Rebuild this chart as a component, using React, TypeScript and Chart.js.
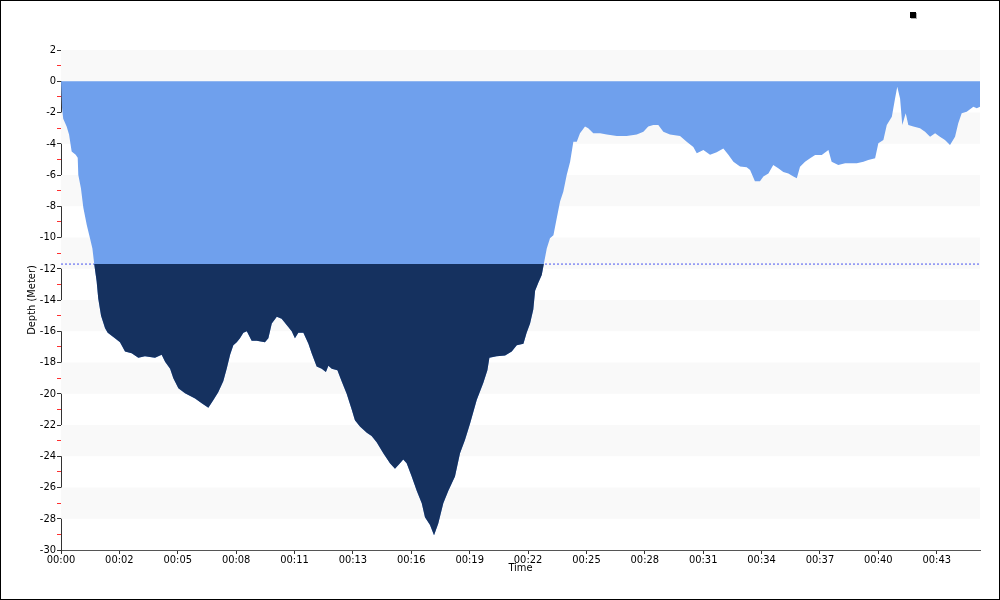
import React, { useEffect, useRef } from "react";
import { Chart, registerables } from "chart.js";

Chart.register(...registerables);

// Time in minutes since start of the dive
const TIME_MIN = [
  0, 0.05, 0.11, 0.28, 0.4, 0.53, 0.73, 0.83, 0.86, 0.99, 1.11, 1.28, 1.44, 1.56, 1.65, 1.77, 1.85, 1.99,
  2.19, 2.32, 2.68, 2.93, 3.18, 3.51, 3.84, 4.17, 4.67, 5.0, 5.17, 5.42, 5.58, 5.83, 6.16, 6.66, 6.99,
  7.32, 7.57, 7.81, 8.06, 8.23, 8.4, 8.56, 8.73, 8.89, 9.06, 9.23, 9.47, 9.72, 10.13, 10.3, 10.47, 10.72,
  10.96, 11.21, 11.46, 11.62, 11.79, 12.04, 12.29, 12.45, 12.7, 12.95, 13.16, 13.28, 13.45, 13.73, 13.94,
  14.19, 14.44, 14.6, 14.85, 15.19, 15.43, 15.68, 16.01, 16.34, 16.59, 16.84, 17.0, 17.17, 17.42, 17.67,
  17.92, 18.08, 18.33, 18.53, 18.74, 18.99, 19.24, 19.57, 19.82, 20.07, 20.32, 20.65, 20.98, 21.18, 21.28,
  21.64, 22.06, 22.39, 22.64, 22.97, 23.13, 23.3, 23.46, 23.55, 23.71, 23.88, 23.99, 24.13, 24.29, 24.46,
  24.62, 24.79, 24.95, 25.12, 25.29, 25.45, 25.62, 25.78, 26.03, 26.19, 26.44, 26.78, 27.11, 27.61, 28.1,
  28.6, 28.93, 29.17, 29.42, 29.67, 29.92, 30.25, 30.75, 31.08, 31.41, 31.58, 31.91, 32.24, 32.57, 32.9,
  33.15, 33.4, 33.73, 34.06, 34.23, 34.47, 34.72, 34.89, 35.14, 35.38, 35.63, 35.88, 36.13, 36.38, 36.55,
  36.71, 36.96, 37.21, 37.46, 37.79, 38.12, 38.28, 38.61, 38.95, 39.53, 39.86, 40.1, 40.44, 40.6, 40.85,
  41.02, 41.27, 41.43, 41.54, 41.68, 41.79, 41.96, 42.09, 42.34, 42.67, 42.92, 43.17, 43.42, 43.66, 43.91,
  44.16, 44.41, 44.57, 44.74, 44.99, 45.32, 45.49, 45.65,
];

// Depth in metres
const DEPTH_M = [
  0, -1.7, -2.4, -2.9, -3.4, -4.5, -4.7, -4.9, -6.0, -6.85, -8.1, -9.2, -10.05, -10.7, -11.7, -12.8, -13.9, -15.0,
  -15.8, -16.1, -16.45, -16.7, -17.3, -17.4, -17.7, -17.6, -17.7, -17.5, -17.95, -18.4, -19.0, -19.65, -19.97, -20.3, -20.6,
  -20.9, -20.4, -19.9, -19.2, -18.4, -17.5, -16.9, -16.7, -16.45, -16.1, -16.0, -16.6, -16.6, -16.7, -16.45, -15.5, -15.07,
  -15.2, -15.6, -16.0, -16.45, -16.1, -16.1, -16.8, -17.4, -18.25, -18.4, -18.6, -18.2, -18.4, -18.5, -19.2,
  -20.0, -21.0, -21.7, -22.1, -22.5, -22.7, -23.1, -23.8, -24.45, -24.8, -24.45, -24.2, -24.45, -25.3, -26.2,
  -27.0, -27.9, -28.4, -29.05, -28.3, -27.0, -26.2, -25.3, -23.8, -22.95, -21.9, -20.4, -19.3, -18.5, -17.7,
  -17.6, -17.55, -17.3, -16.9, -16.8, -16.1, -15.5, -14.6, -13.4, -12.9, -12.4, -11.65, -10.7, -10.05, -9.85,
  -8.8, -7.7, -7.07, -6.0, -5.15, -3.87, -3.87, -3.33, -2.9, -3.0, -3.33, -3.33, -3.4, -3.5, -3.5,
  -3.4, -3.23, -2.9, -2.8, -2.8, -3.23, -3.4, -3.5, -3.87, -4.2, -4.6, -4.4, -4.7, -4.55, -4.3,
  -4.7, -5.15, -5.45, -5.5, -5.68, -6.4, -6.4, -6.1, -5.9, -5.36, -5.57, -5.8, -5.9, -6.1, -6.2,
  -5.47, -5.15, -4.93, -4.72, -4.72, -4.4, -5.15, -5.36, -5.25, -5.25, -5.15, -5.04, -4.93, -3.97, -3.76,
  -2.8, -2.27, -1.1, -0.35, -1.1, -2.8, -2.05, -2.8, -2.9, -3.0, -3.23, -3.55, -3.33, -3.55, -3.76,
  -4.08, -3.55, -2.69, -2.05, -1.95, -1.63, -1.73, -1.63,
];

const THRESHOLD_M = -11.7;
const X_MAX = 45.65;

const TICK_VALUES = [0, 2.9, 5.8, 8.7, 11.6, 14.5, 17.4, 20.3, 23.2, 26.1, 29, 31.9, 34.8, 37.7, 40.6, 43.5];
const TICK_LABELS = [
  "00:00", "00:02", "00:05", "00:08", "00:11", "00:13", "00:16", "00:19",
  "00:22", "00:25", "00:28", "00:31", "00:34", "00:37", "00:40", "00:43",
];
const BANDS = [[2, 0], [-2, -4], [-6, -8], [-10, -12], [-14, -16], [-18, -20], [-22, -24], [-26, -28]];

const LIGHT = "#6fa0ed";
const DARK = "#15315f";
const FONT = "'DejaVu Sans Condensed', 'DejaVu Sans', sans-serif";

const decorPlugin = {
  id: "decor",
  beforeDatasetsDraw(chart: any) {
    const { ctx, chartArea, scales } = chart;
    const y = scales.y;
    ctx.save();
    ctx.fillStyle = "#f9f9f9";
    for (const [a, b] of BANDS) {
      const y1 = y.getPixelForValue(a);
      const y2 = y.getPixelForValue(b);
      ctx.fillRect(chartArea.left, y1, chartArea.right - chartArea.left, y2 - y1);
    }
    ctx.restore();
  },
  afterDraw(chart: any) {
    const { ctx, width, height } = chart;
    ctx.save();
    ctx.strokeStyle = "#000";
    ctx.lineWidth = 1;
    ctx.strokeRect(0.5, 0.5, width - 1, height - 1);
    // legend marker
    ctx.fillStyle = "#b0b0b0";
    ctx.fillRect(911, 13, 6, 6);
    ctx.fillStyle = "#000";
    ctx.fillRect(910, 12, 6, 6);
    ctx.restore();
  },
};

export default function App() {
  const ref = useRef<HTMLCanvasElement>(null);

  useEffect(() => {
    document.body.style.margin = "0";
    const points = TIME_MIN.map((t, i) => ({ x: t, y: DEPTH_M[i] }));
    const chart = new Chart(ref.current!, {
      type: "line",
      data: {
        datasets: [
          {
            label: "deep",
            data: points,
            borderWidth: 0,
            pointRadius: 0,
            tension: 0,
            fill: { target: { value: THRESHOLD_M }, above: "rgba(0,0,0,0)", below: DARK },
          },
          {
            label: "depth",
            data: points,
            borderWidth: 0,
            pointRadius: 0,
            tension: 0,
            backgroundColor: LIGHT,
            fill: "origin",
          },
          {
            label: "limit",
            data: [
              { x: 0, y: THRESHOLD_M },
              { x: X_MAX, y: THRESHOLD_M },
            ],
            borderColor: "#4a55f0",
            borderWidth: 1,
            borderDash: [2, 2],
            pointRadius: 0,
            fill: false,
          },
        ],
      } as any,
      options: {
        animation: false,
        responsive: false,
        maintainAspectRatio: false,
        layout: { padding: { left: 26, right: 20, top: 50, bottom: 25 } },
        plugins: { legend: { display: false }, tooltip: { enabled: false } },
        scales: {
          x: {
            type: "linear",
            min: 0,
            max: X_MAX,
            afterBuildTicks: (scale: any) => {
              scale.ticks = TICK_VALUES.map((v) => ({ value: v }));
            },
            afterFit: (scale: any) => {
              scale.height = 25;
            },
            ticks: {
              autoSkip: false,
              maxRotation: 0,
              padding: 0,
              color: "#000",
              font: { family: FONT, size: 11 },
              callback: (_v: any, i: number) => TICK_LABELS[i],
            },
            grid: { drawOnChartArea: false, tickLength: 4, color: "#333" },
            border: { color: "#555", width: 1 },
            title: {
              display: true,
              text: "Time",
              color: "#000",
              padding: 0,
              font: { family: FONT, size: 11 },
            },
          },
          y: {
            type: "linear",
            min: -30,
            max: 2,
            afterFit: (scale: any) => {
              scale.width = 35;
            },
            ticks: {
              stepSize: 1,
              autoSkip: false,
              padding: 1,
              color: "#000",
              font: { family: FONT, size: 11 },
              callback: (v: any) => (Number(v) % 2 === 0 ? String(v) : ""),
            },
            grid: {
              drawOnChartArea: false,
              tickLength: 4,
              color: (c: any) => (c.tick && Math.abs(c.tick.value) % 2 === 1 ? "#ff3030" : "#333"),
            },
            border: { color: "#333", width: 1 },
            title: {
              display: true,
              text: "Depth (Meter)",
              color: "#000",
              padding: 0,
              font: { family: FONT, size: 11 },
            },
          },
        },
      } as any,
      plugins: [decorPlugin],
    });
    return () => chart.destroy();
  }, []);

  return <canvas ref={ref} width={1000} height={600} style={{ display: "block" }} />;
}
